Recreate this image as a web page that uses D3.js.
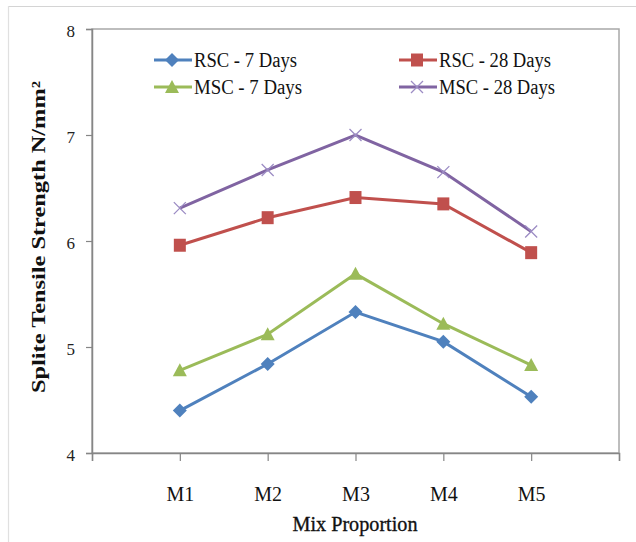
<!DOCTYPE html>
<html>
<head>
<meta charset="utf-8">
<script src="https://cdn.jsdelivr.net/npm/d3@7"></script>
<style>
  body { margin: 0; background: #fff; }
  svg { display: block; font-family: "Liberation Serif", "DejaVu Serif", serif; }
</style>
</head>
<body>
<div id="chart"></div>
<script>
// chart values
const categories = ["M1", "M2", "M3", "M4", "M5"];
const rsc7  = [4.40, 4.84, 5.33, 5.05, 4.53];
const rsc28 = [5.96, 6.22, 6.41, 6.35, 5.89];
const msc7  = [4.78, 5.12, 5.69, 5.22, 4.83];
const msc28 = [6.31, 6.67, 7.00, 6.65, 6.09];
const yTicks = [4, 5, 6, 7, 8];

const series = [
  { name: "RSC - 7 Days",  values: rsc7,  color: "#4f81bd", marker: "diamond",  legendCol: 0, legendRow: 0, textW: 103 },
  { name: "RSC - 28 Days", values: rsc28, color: "#c0504d", marker: "square",   legendCol: 1, legendRow: 0, textW: 112 },
  { name: "MSC - 7 Days",  values: msc7,  color: "#9bbb59", marker: "triangle", legendCol: 0, legendRow: 1, textW: 108 },
  { name: "MSC - 28 Days", values: msc28, color: "#8064a2", marker: "cross",    legendCol: 1, legendRow: 1, textW: 116 }
];

const width = 636, height = 542;
const margin = { top: 29, right: 17, bottom: 89, left: 92 };

const svg = d3.select("#chart").append("svg")
    .attr("width", width)
    .attr("height", height);

// outer chart border (only top and left show)
svg.append("line").attr("x1", 8).attr("x2", width).attr("y1", 6.5).attr("y2", 6.5)
    .attr("stroke", "#d4d4d4").attr("stroke-width", 1.2);
svg.append("line").attr("x1", 8.5).attr("x2", 8.5).attr("y1", 6).attr("y2", height)
    .attr("stroke", "#e0e0e0").attr("stroke-width", 1.2);

// x has one empty slot on each side, like the original
const x = d3.scaleLinear().domain([0, 6]).range([margin.left, width - margin.right]);
const y = d3.scaleLinear().domain([4, 8]).range([height - margin.bottom, margin.top]);

// plot area frame
svg.append("rect")
    .attr("x", x(0)).attr("y", y(8))
    .attr("width", x(6) - x(0)).attr("height", y(4) - y(8))
    .attr("fill", "none").attr("stroke", "#a8a8a8").attr("stroke-width", 1.5);

// y axis
const yAxis = svg.append("g")
    .attr("transform", `translate(${x(0)},0)`)
    .call(d3.axisLeft(y).tickValues(yTicks).tickSize(6).tickPadding(11).tickFormat(d3.format("d")));
yAxis.select(".domain").attr("stroke", "#868686").attr("stroke-width", 1.5);
yAxis.selectAll(".tick line").attr("stroke", "#868686").attr("stroke-width", 1.2);
yAxis.selectAll(".tick text")
    .attr("font-family", "Liberation Serif, serif")
    .attr("font-size", 17)
    .attr("fill", "#222")
    .attr("dy", "0.45em");

// x axis
const xAxis = svg.append("g")
    .attr("transform", `translate(0,${y(4)})`)
    .call(d3.axisBottom(x).tickValues(d3.range(0, 7)).tickSize(8)
      .tickFormat(d => categories[d - 1] || ""));
xAxis.select(".domain").attr("stroke", "#868686").attr("stroke-width", 1.5);
xAxis.selectAll(".tick line").attr("stroke", "#868686").attr("stroke-width", 1.2);
xAxis.selectAll(".tick text")
    .attr("font-family", "Liberation Serif, serif")
    .attr("font-size", 20)
    .attr("fill", "#111")
    .attr("y", 48)
    .attr("dy", 0);

// axis titles
svg.append("text")
    .attr("x", 355).attr("y", 531)
    .attr("text-anchor", "middle")
    .attr("font-size", 22)
    .attr("fill", "#111")
    .attr("stroke", "#111")
    .attr("stroke-width", 0.35)
    .attr("textLength", 125)
    .attr("lengthAdjust", "spacingAndGlyphs")
    .text("Mix Proportion");

svg.append("text")
    .attr("transform", "translate(45,237) rotate(-90)")
    .attr("text-anchor", "middle")
    .attr("font-size", 19)
    .attr("font-weight", "bold")
    .attr("fill", "#111")
    .attr("textLength", 312)
    .attr("lengthAdjust", "spacingAndGlyphs")
    .text("Splite Tensile Strength N/mm²");

// marker shapes
function markerPath(type) {
  if (type === "diamond") return "M0,-7L7,0L0,7L-7,0Z";
  if (type === "square") return "M-6,-6.5H6V6.5H-6Z";
  if (type === "triangle") return "M0,-7L7,6L-7,6Z";
  return "M-6,-6L6,6M-6,6L6,-6";
}
function drawMarker(g, s) {
  const p = g.append("path").attr("d", markerPath(s.marker));
  if (s.marker === "cross") {
    p.attr("fill", "none").attr("stroke", "#9c8cc4").attr("stroke-width", 1.3);
  } else {
    p.attr("fill", s.color);
  }
}

const line = d3.line()
    .x((d, i) => x(i + 1))
    .y(d => y(d));

series.forEach(s => {
  const g = svg.append("g");
  g.append("path")
      .datum(s.values)
      .attr("d", line)
      .attr("fill", "none")
      .attr("stroke", s.color)
      .attr("stroke-width", 3);
  s.values.forEach((v, i) => {
    const m = g.append("g").attr("transform", `translate(${x(i + 1)},${y(v)})`);
    drawMarker(m, s);
  });
});

// legend
const legendX = [154, 399];
const legendY = [60, 87];
series.forEach(s => {
  const lx = legendX[s.legendCol], ly = legendY[s.legendRow];
  const g = svg.append("g");
  g.append("line")
      .attr("x1", lx).attr("x2", lx + 38)
      .attr("y1", ly).attr("y2", ly)
      .attr("stroke", s.color).attr("stroke-width", 3);
  const m = g.append("g").attr("transform", `translate(${lx + 18},${ly})`);
  drawMarker(m, s);
  g.append("text")
      .attr("x", lx + 40).attr("y", ly + 7)
      .attr("font-size", 20)
      .attr("fill", "#111")
      .attr("textLength", s.textW)
      .attr("lengthAdjust", "spacingAndGlyphs")
      .text(s.name);
});
</script>
</body>
</html>
